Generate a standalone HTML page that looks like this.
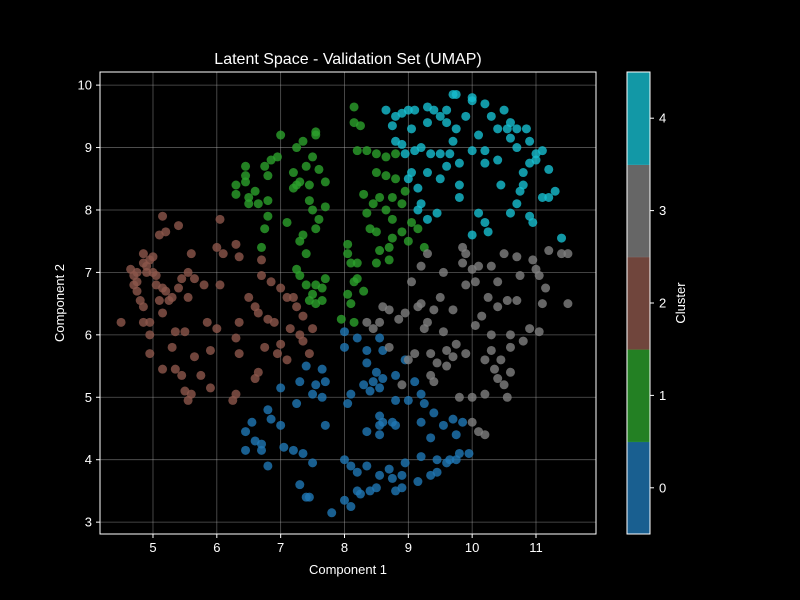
<!DOCTYPE html>
<html><head><meta charset="utf-8"><style>
html,body{margin:0;padding:0;background:#000;}
svg{display:block;font-family:"Liberation Sans","DejaVu Sans",sans-serif;}
</style></head><body>
<svg id="chart" width="800" height="600" viewBox="0 0 800 600">
<rect width="800" height="600" fill="#000"/>
<g id="grid"></g>
<g id="pts"></g>
<rect x="100" y="72" width="496" height="462" fill="none" stroke="#fff" stroke-width="1"/>
<g id="axes"></g>
<text x="348" y="64" fill="#fff" font-size="16" text-anchor="middle">Latent Space - Validation Set (UMAP)</text>
<text x="348" y="574" fill="#fff" font-size="13" text-anchor="middle">Component 1</text>
<text x="64" y="303" fill="#fff" font-size="13" text-anchor="middle" transform="rotate(-90 64 303)">Component 2</text>
<g id="cbar"></g>
<text x="685" y="303" fill="#fff" font-size="13" text-anchor="middle" transform="rotate(-90 685 303)">Cluster</text>
</svg>
<script>
const xTicks=[5,6,7,8,9,10,11];
const yTicks=[3,4,5,6,7,8,9,10];
const cbTicks=[0,1,2,3,4];
const clusterColors=["#1f77b4","#2ca02c","#8c564b","#7f7f7f","#17becf"];
const c4x=[9.7,9.75,10,10,9.3,9.4,9.6,10.2,10.5,8.65,8.9,9.0,9.1,8.8,9.5,9.9,10.3,10.6,10.7,10.4,8.75,9.05,9.3,9.6,9.75,10.1,10.55,10.85,10.9,10.7,11,11.1,11.2,10.2,10,9.7,9.2,9.35,9.1,8.9,8.95,9.5,9.8,9.6,10.2,10.4,10.8,10.9,11,11.3,11.1,10.8,10.75,10.7,10.9,10.95,11.2,10.6,10.1,10.2,10.25,10,9.45,9.3,9.15,9.2,9.15,9.0,9.3,9.8,9.8,10.45,11.4,9.5,9.65,10.6,8.8,9.05];
const c4y=[9.85,9.85,9.8,9.75,9.65,9.6,9.6,9.7,9.6,9.6,9.55,9.6,9.6,9.5,9.5,9.5,9.5,9.4,9.3,9.3,9.35,9.3,9.4,9.4,9.3,9.2,9.3,9.3,9.1,9.0,8.9,8.95,8.65,8.95,8.95,9.1,9.0,8.9,8.95,9.05,8.9,8.9,8.75,8.7,8.75,8.8,8.6,8.75,8.8,8.3,8.2,8.4,8.3,8.1,7.9,7.8,8.2,7.95,7.95,7.8,7.65,7.6,7.95,7.85,8.35,8.1,8.0,8.5,8.6,8.4,8.2,8.4,7.55,8.5,8.9,9.15,9.1,8.6];
const c3x=[11.5,11.4,11.2,10.95,11,11.05,10.7,10.5,10.3,10.1,10,9.85,9.9,9.85,9.55,9.3,9.2,9.05,10.05,10.4,10.75,11.15,11.1,11.5,10.7,10.55,10.4,10.15,10.05,10.3,10.6,10.9,11.05,10.8,10.6,10.3,10.2,10.45,10.35,10.6,10.4,10.5,10.55,10.2,10.0,9.8,10.0,10.1,10.2,9.7,9.5,9.4,9.3,9.2,9.25,8.95,8.85,8.7,8.55,8.6,8.35,8.45,9.0,9.1,9.35,9.45,9.35,9.4,9.6,9.7,9.75,9.9,9.55,9.9,10.25,8.7,8.9,9.6,9.15];
const c3y=[7.3,7.3,7.35,7.2,7.05,6.95,7.25,7.3,7.1,7.1,7.05,7.4,7.3,7.15,7.0,7.3,7.1,6.85,6.85,6.85,6.95,6.75,6.5,6.5,6.55,6.55,6.45,6.3,6.15,6.0,6.0,6.1,6.05,5.9,5.8,5.75,5.6,5.6,5.45,5.4,5.3,5.2,5.0,5.05,5.0,5.0,4.6,4.45,4.4,6.4,6.6,6.4,6.2,6.5,6.1,6.35,6.25,6.4,6.2,6.45,6.2,6.1,5.6,5.7,5.7,5.55,5.35,5.25,5.5,5.65,5.85,5.7,6.05,6.8,6.6,5.8,5.2,5.75,6.45];
const c1x=[8.15,8.15,8.25,8.2,8.35,8.5,8.65,8.5,8.65,7.55,7.55,7.35,7.25,7.0,6.95,6.85,6.75,6.8,6.45,6.45,6.45,6.3,6.3,6.5,6.6,6.65,6.5,6.8,6.8,6.75,6.7,7.2,7.25,7.3,7.2,7.4,7.5,7.6,7.7,7.45,7.45,7.5,7.6,7.55,7.7,7.1,7.35,7.3,7.4,7.25,7.3,7.4,7.55,7.7,7.65,7.5,7.55,7.45,7.65,8.05,8.05,8.1,8.15,8.05,8.1,8.15,7.95,8.2,8.3,8.3,8.45,8.35,8.55,8.65,8.75,8.9,8.95,8.75,8.5,8.4,8.55,8.7,8.75,8.9,9.0,9.05,9.15,9.25,8.5,8.7,8.2,8.8,8.8];
const c1y=[9.65,9.4,9.35,8.95,8.95,8.9,8.85,8.6,8.55,9.25,9.2,9.1,9.0,9.2,8.85,8.8,8.7,8.55,8.7,8.55,8.45,8.4,8.25,8.2,8.3,8.1,8.1,8.15,7.9,7.7,7.4,8.6,8.4,8.45,8.35,8.7,8.85,8.65,8.45,8.4,8.15,8.0,7.85,7.7,8.05,7.8,7.6,7.5,7.3,7.05,6.95,6.8,6.8,6.9,6.75,6.65,6.5,6.55,6.55,7.45,7.3,7.15,6.85,6.65,6.5,6.2,6.25,6.9,6.7,8.25,8.1,7.95,8.2,8.0,8.2,8.1,8.3,7.85,7.65,7.7,7.35,7.4,7.55,7.65,7.5,7.8,7.7,7.4,7.15,7.2,7.15,8.5,8.9];
const c2x=[5.15,5.1,5.2,5.4,5.0,4.95,4.85,4.75,4.65,4.7,4.75,4.7,4.75,4.8,4.85,4.85,4.9,5.0,5.05,5.15,5.2,5.25,5.3,5.4,5.45,5.55,5.6,5.65,5.55,5.1,5.15,4.85,4.95,4.5,4.95,4.95,5.15,5.3,5.35,5.35,5.45,5.5,5.55,5.6,5.65,5.5,5.9,5.9,5.85,6.0,6.05,6.0,6.05,6.1,6.25,6.3,6.35,6.3,6.35,6.3,6.35,6.5,6.6,6.65,6.65,6.6,6.75,6.7,6.7,6.8,6.85,6.9,6.95,7.0,7.1,7.1,7.0,7.15,7.2,7.25,7.3,7.35,7.35,7.5,7.45,5.8,5.05,4.9,5.75];
const c2y=[7.9,7.6,7.65,7.75,7.25,7.2,7.15,7.0,7.05,6.95,6.85,6.8,6.7,6.55,6.45,7.3,7.0,7.0,6.8,6.75,6.7,6.55,6.6,6.75,6.9,7.0,7.3,6.9,6.6,6.55,6.35,6.2,6.2,6.2,6.0,5.7,5.45,5.8,6.05,5.45,5.35,5.1,4.95,5.05,5.65,6.05,5.75,5.15,6.2,6.1,6.8,7.4,7.85,7.3,4.95,5.05,5.7,5.95,6.2,7.45,7.25,6.6,6.45,6.35,5.4,5.3,5.8,7.2,6.95,6.25,6.85,6.2,5.7,6.75,6.6,5.6,5.85,6.1,6.6,6.45,6.0,5.9,6.3,6.1,5.7,6.8,6.95,7.1,5.35];
const c0x=[8.0,8.0,8.2,8.35,8.35,8.55,8.6,8.5,8.6,8.45,8.55,8.3,8.4,8.1,8.05,8.8,8.95,9.1,9.2,9.25,9.0,8.8,8.75,8.8,8.6,8.55,8.55,8.55,8.35,9.2,9.35,9.4,9.55,9.7,9.75,9.85,9.65,9.75,9.6,9.45,9.45,9.35,9.2,9.15,8.95,8.9,8.9,8.8,8.75,8.7,8.55,8.5,8.4,8.35,8.2,8.1,8.2,8.25,8.0,8.1,7.8,8.0,7.5,7.3,7.4,7.45,7.35,7.2,7.05,7.0,7.25,7.3,7.4,7.5,7.55,7.7,7.65,7.7,6.8,6.85,6.7,6.6,6.7,6.8,6.45,6.45,6.55,7.0,7.65,9.8,9.95];
const c0y=[6.05,5.8,5.95,5.75,5.55,5.95,5.75,5.4,5.3,5.25,5.15,5.2,5.1,5.05,4.9,5.35,5.6,5.25,5.05,4.9,4.95,4.95,4.6,4.55,4.6,4.7,4.55,4.4,4.45,4.6,4.35,4.75,4.55,4.65,4.4,4.6,4.0,4.0,3.95,4.0,3.8,3.75,4.05,3.65,3.95,3.75,3.55,3.5,3.7,3.85,3.75,3.55,3.5,3.9,3.8,3.9,3.5,3.45,3.35,3.25,3.15,4.0,3.95,3.6,3.4,3.4,4.1,4.15,4.2,4.55,4.9,5.25,5.5,5.05,5.2,5.25,5.0,4.55,4.8,4.65,4.25,4.3,4.15,3.9,4.45,4.15,4.6,5.15,5.45,4.1,4.1];

const NS="http://www.w3.org/2000/svg";
const L=100,R=596,T=72,B=534;
const xMin=4.17,xMax=11.94,yMin=2.81,yMax=10.21;
function sx(v){return L+(v-xMin)/(xMax-xMin)*(R-L);}
function sy(v){return B-(v-yMin)/(yMax-yMin)*(B-T);}
function mk(tag,attrs,parent){const e=document.createElementNS(NS,tag);for(const k in attrs)e.setAttribute(k,attrs[k]);parent.appendChild(e);return e;}
const grid=document.getElementById('grid'),axes=document.getElementById('axes'),pts=document.getElementById('pts'),cbar=document.getElementById('cbar');
xTicks.forEach(t=>{const x=sx(t);
 let g=mk('line',{x1:x,x2:x,y1:T,y2:B,stroke:'#b0b0b0','stroke-opacity':0.5,'stroke-width':0.8},grid);
 
 
 let k=mk('line',{x1:x,x2:x,y1:B,y2:B+4,stroke:'#fff'},axes);
 
 
 let tx=mk('text',{x:x,y:B+18,fill:'#fff','font-size':13,'text-anchor':'middle'},axes);tx.textContent=t;
 
 
});
yTicks.forEach(t=>{const y=sy(t);
 let g=mk('line',{x1:L,x2:R,y1:y,y2:y,stroke:'#b0b0b0','stroke-opacity':0.5,'stroke-width':0.8},grid);
 
 
 let k=mk('line',{x1:L-4,x2:L,y1:y,y2:y,stroke:'#fff'},axes);
 
 
 let tx=mk('text',{x:L-8,y:y+4.5,fill:'#fff','font-size':13,'text-anchor':'end'},axes);tx.textContent=t;
 
 
});
const series=[[c0x,c0y],[c1x,c1y],[c2x,c2y],[c3x,c3y],[c4x,c4y]];
series.forEach((s,ci)=>{s[0].forEach((xv,i)=>{
 const c=mk('circle',{cx:sx(xv),cy:sy(s[1][i]),r:4.5,fill:clusterColors[ci],'fill-opacity':0.8},pts);
 
 
});});
// colorbar
const cbL=627,cbW=23,cbT=72,cbB=534,n=cbTicks.length,seg=(cbB-cbT)/n;
cbTicks.forEach((t,i)=>{
 const y0=cbB-(i+1)*seg;
 const r=mk('rect',{x:cbL,y:y0,width:cbW,height:seg+0.5,fill:clusterColors[i],'fill-opacity':0.8},cbar);
 
 
 const yc=y0+seg/2;
 const k=mk('line',{x1:cbL+cbW,x2:cbL+cbW+4,y1:yc,y2:yc,stroke:'#fff'},cbar);
 
 
 const tx=mk('text',{x:cbL+cbW+9,y:yc+4.5,fill:'#fff','font-size':13},cbar);tx.textContent=t;
 
 
});
const fr=mk('rect',{x:cbL,y:cbT,width:cbW,height:cbB-cbT,fill:'none',stroke:'#fff'},cbar);


</script>
</body></html>
